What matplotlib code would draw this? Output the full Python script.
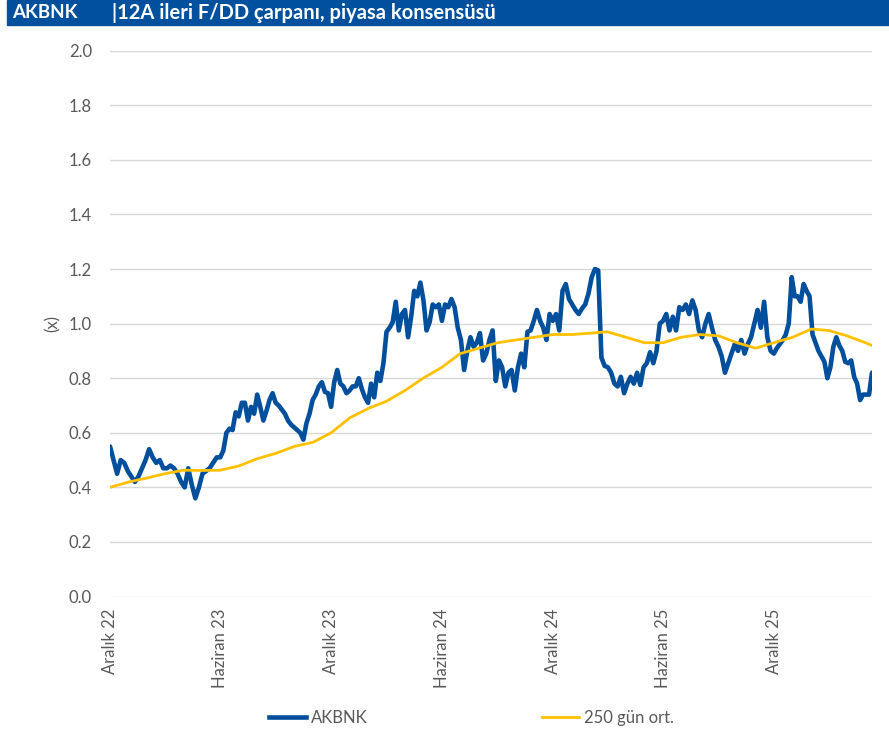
import matplotlib
matplotlib.use("Agg")
import matplotlib.pyplot as plt
import pandas as pd
from matplotlib.patches import Rectangle
from matplotlib.lines import Line2D

plt.rcParams['font.family'] = ['Lato', 'DejaVu Sans']

# ---------------- data ----------------
tick_dates = ["2022-12-01", "2023-06-01", "2023-12-01", "2024-06-01",
              "2024-12-01", "2025-06-01", "2025-12-01"]
tick_labels = ["Aralık 22", "Haziran 23", "Aralık 23", "Haziran 24",
               "Aralık 24", "Haziran 25", "Aralık 25"]
end_date = "2026-05-12"

# AKBNK 12M forward P/B, read per half-year block
akbnk_h1 = [0.55, 0.50, 0.45, 0.50, 0.49, 0.46, 0.44, 0.42, 0.44, 0.47, 0.50,
            0.54, 0.51, 0.49, 0.50, 0.47, 0.47, 0.48, 0.47, 0.45, 0.42, 0.40,
            0.47, 0.41, 0.36, 0.40, 0.45, 0.46, 0.47, 0.49, 0.51]
akbnk_h2 = [0.51, 0.535, 0.60, 0.615, 0.61, 0.675, 0.66, 0.71, 0.71, 0.645,
            0.695, 0.67, 0.74, 0.695, 0.645, 0.68, 0.72, 0.745, 0.71, 0.70,
            0.685, 0.67, 0.645, 0.63, 0.62, 0.61, 0.60, 0.575, 0.635, 0.67,
            0.72, 0.74, 0.77, 0.785, 0.75, 0.745]
akbnk_h3 = [0.695, 0.785, 0.83, 0.78, 0.77, 0.745, 0.755, 0.77, 0.77, 0.80,
            0.76, 0.73, 0.71, 0.78, 0.73, 0.82, 0.79, 0.855, 0.97, 0.985,
            1.005, 1.08, 0.975, 1.035, 1.05, 0.95, 1.025, 1.12, 1.10, 1.15,
            1.085, 0.975, 1.005, 1.07, 1.06, 1.07]
akbnk_h4 = [1.01, 1.07, 1.06, 1.09, 1.06, 0.985, 0.94, 0.83, 0.90, 0.95,
            0.915, 0.93, 0.965, 0.865, 0.89, 0.94, 0.975, 0.79, 0.865, 0.84,
            0.77, 0.82, 0.83, 0.755, 0.84, 0.89, 0.84, 0.97, 0.975, 1.01,
            1.05, 1.01, 0.985, 0.94, 1.035]
akbnk_h5 = [1.01, 1.035, 0.975, 1.12, 1.145, 1.09, 1.07, 1.05, 1.035, 1.055,
            1.07, 1.11, 1.17, 1.20, 1.195, 0.875, 0.845, 0.84, 0.82, 0.78,
            0.77, 0.805, 0.745, 0.78, 0.805, 0.78, 0.82, 0.775, 0.84, 0.855,
            0.895, 0.855, 0.90, 1.00]
akbnk_h6 = [1.01, 1.035, 0.975, 1.025, 0.975, 1.06, 1.05, 1.07, 1.035, 1.085,
            1.05, 0.975, 0.95, 1.00, 1.035, 0.985, 0.94, 0.915, 0.88, 0.82,
            0.855, 0.89, 0.925, 0.90, 0.94, 0.89, 0.925, 0.95, 1.00, 1.05,
            0.985, 1.08, 0.95, 0.90]
akbnk_h7 = [0.89, 0.91, 0.925, 0.94, 0.96, 1.00, 1.17, 1.10, 1.10, 1.08,
            1.145, 1.12, 1.10, 0.96, 0.93, 0.90, 0.88, 0.86, 0.80, 0.84,
            0.915, 0.95, 0.92, 0.90, 0.86, 0.855, 0.865, 0.805, 0.78, 0.72,
            0.74, 0.74, 0.74, 0.82]

# 250-day moving average, monthly readings (Dec 22 .. May 26) + last day
ma250 = [0.40, 0.42, 0.435, 0.45, 0.463, 0.462, 0.463, 0.478, 0.505, 0.525,
         0.55, 0.565, 0.60, 0.655, 0.69, 0.715, 0.755, 0.80, 0.84, 0.89,
         0.91, 0.93, 0.94, 0.95, 0.96, 0.96, 0.965, 0.97, 0.95, 0.93,
         0.93, 0.95, 0.96, 0.955, 0.93, 0.91, 0.93, 0.95, 0.98, 0.975,
         0.955, 0.93, 0.92]

y_ticks = [0.0, 0.2, 0.4, 0.6, 0.8, 1.0, 1.2, 1.4, 1.6, 1.8, 2.0]

# ---------------- build series ----------------
blocks = [akbnk_h1, akbnk_h2, akbnk_h3, akbnk_h4, akbnk_h5, akbnk_h6, akbnk_h7]
bounds = [pd.Timestamp(d) for d in tick_dates] + [pd.Timestamp(end_date)]
x_blue, y_blue = [], []
for i, vals in enumerate(blocks):
    last = (i == len(blocks) - 1)
    if last:
        ds = pd.date_range(bounds[i], bounds[i + 1], periods=len(vals))
    else:
        ds = pd.date_range(bounds[i], bounds[i + 1], periods=len(vals) + 1)[:-1]
    x_blue.extend(ds)
    y_blue.extend(vals)

ma_dates = list(pd.date_range("2022-12-01", "2026-05-01", freq="MS")) + [pd.Timestamp(end_date)]

# ---------------- figure ----------------
W, H = 889, 734
fig = plt.figure(figsize=(W / 100, H / 100), dpi=100)

# header band
fig.patches.append(Rectangle((7 / W, 1 - 25 / H), 1 - 7 / W, 25 / H,
                             transform=fig.transFigure, color="#00509E", zorder=0))
fig.text(12 / W, 1 - 13 / H, "AKBNK", color="white", fontsize=13.5,
         fontweight="bold", va="center", ha="left")
fig.text(112 / W, 1 - 13 / H, "|12A ileri F/DD çarpanı, piyasa konsensüsü",
         color="white", fontsize=14.5, fontweight="bold", va="center", ha="left")

ax = fig.add_axes([110 / W, (H - 596.6) / H, (872 - 110) / W, (596.6 - 50.6) / H])
ax.plot(x_blue, y_blue, color="#004F9C", lw=3.3, solid_joinstyle="round",
        solid_capstyle="round", zorder=3)
ax.plot(ma_dates, ma250, color="#FFC000", lw=2.0, zorder=4)

ax.set_ylim(0, 2.0)
ax.set_xlim(pd.Timestamp(tick_dates[0]), pd.Timestamp(end_date))
ax.set_yticks(y_ticks)
ax.set_yticklabels([f"{v:.1f}" for v in y_ticks])
ax.set_xticks([pd.Timestamp(d) for d in tick_dates])
ax.set_xticklabels(tick_labels, rotation=90, va="top", ha="center")
ax.grid(axis="y", color="#D9D9D9", lw=1.0)
ax.set_axisbelow(True)
for s in ax.spines.values():
    s.set_visible(False)
ax.tick_params(axis="both", length=0, colors="#595959", labelsize=12)
ax.tick_params(axis="y", pad=13)
ax.tick_params(axis="x", pad=9)
ax.set_ylabel("(x)", color="#595959", fontsize=12, labelpad=6)

handles = [Line2D([], [], color="#004F9C", lw=3.3),
           Line2D([], [], color="#FFC000", lw=2.0)]
fig.legend(handles, ["AKBNK", "250 gün ort."], loc="center left",
           bbox_to_anchor=(254 / W, (H - 718) / H), ncol=2, frameon=False,
           fontsize=12, handlelength=2.2, handletextpad=0.3,
           columnspacing=10.5, labelcolor="#595959")

fig.savefig("out.png", dpi=100)
